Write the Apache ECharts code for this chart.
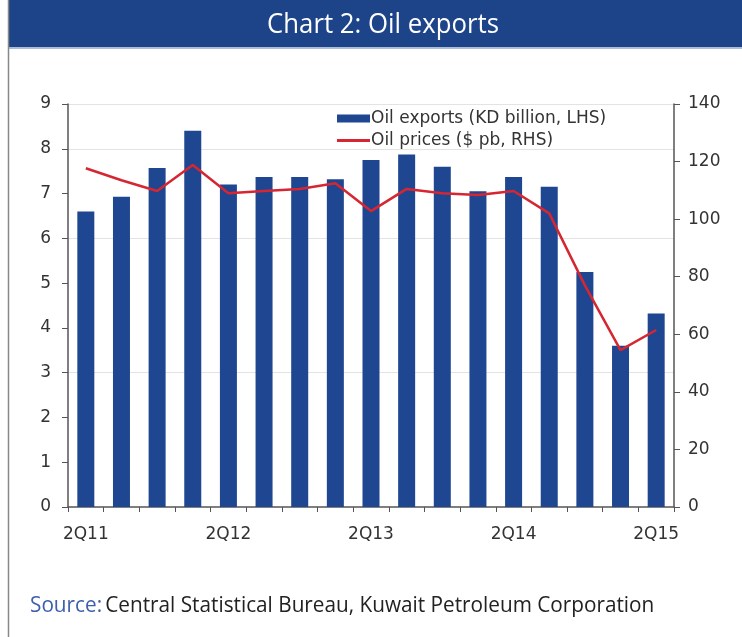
<!DOCTYPE html>
<html><head><meta charset="utf-8">
<script src="https://cdn.jsdelivr.net/npm/echarts@6/dist/echarts.min.js"></script>
<style>html,body{margin:0;padding:0;background:#fff}#c{width:742px;height:637px}</style>
</head><body><div id="c"></div>
<script>
const categories = ['2Q11','3Q11','4Q11','1Q12','2Q12','3Q12','4Q12','1Q13','2Q13','3Q13','4Q13','1Q14','2Q14','3Q14','4Q14','1Q15','2Q15'];
const oilExports = [6.6, 6.93, 7.57, 8.4, 7.2, 7.37, 7.37, 7.32, 7.75, 7.87, 7.6, 7.05, 7.37, 7.15, 5.25, 3.6, 4.32];
const oilPrices = [117.7, 113.5, 109.8, 118.8, 109, 109.8, 110.5, 112.5, 102.8, 110.5, 109, 108.4, 109.8, 102, 77, 54.5, 61.5];
const leftTicks = [0, 9, 1];
const rightTicks = [0, 140, 20];
const gridLevels = [9, 8, 6, 3];

const chart = echarts.init(document.getElementById('c'));
const axisCol = '#555';
const txtCol = '#333';
const font = 'DejaVu Sans';
const condFont = '"Open Sans", sans-serif';
chart.setOption({
  animation: false,
  textStyle: {fontFamily: font},
  graphic: [
    {type: 'rect', shape: {x: 8, y: 0, width: 734, height: 47}, style: {fill: '#1d4489'}, z: 10},
    {type: 'line', shape: {x1: 8, y1: 48, x2: 742, y2: 48}, style: {stroke: '#8fa6cf', lineWidth: 1.5}, z: 10},
    {type: 'line', shape: {x1: 8.5, y1: 0, x2: 8.5, y2: 637}, style: {stroke: '#888', lineWidth: 1.5}, z: 10},
    {type: 'text', x: 383, y: 25, scaleX: 0.92, style: {text: 'Chart 2: Oil exports', fill: '#fff', font: '28px ' + condFont, textAlign: 'center', textVerticalAlign: 'middle'}, z: 11},
    {type: 'text', x: 30, y: 606, scaleX: 0.943, style: {rich: {a: {fill: '#3d5fae', fontSize: 22, fontFamily: condFont}, b: {fill: '#222', fontSize: 22, fontFamily: condFont}}, text: '{a|Source:} {b|Central Statistical Bureau, Kuwait Petroleum Corporation}', textVerticalAlign: 'middle'}, z: 11}
  ],
  legend: [
    {left: 337, top: 110, itemWidth: 33, itemHeight: 8, padding: 0,
     textStyle: {fontSize: 17, color: txtCol, fontFamily: font, padding: [0, 0, 0, -4]},
     data: [{name: 'Oil exports (KD billion, LHS)', icon: 'rect'}]},
    {left: 337, top: 132, itemWidth: 33, itemHeight: 3, padding: 0,
     textStyle: {fontSize: 17, color: txtCol, fontFamily: font, padding: [0, 0, 0, -4]},
     data: [{name: 'Oil prices ($ pb, RHS)', icon: 'rect'}]}
  ],
  grid: {left: 68, right: 68, top: 104, bottom: 130},
  xAxis: {
    type: 'category', data: categories, boundaryGap: true,
    axisLine: {lineStyle: {color: axisCol, width: 1.5}},
    axisTick: {show: true, alignWithLabel: false, interval: 0, length: 5, lineStyle: {color: axisCol}},
    axisLabel: {interval: 3, color: txtCol, fontSize: 17, margin: 19, fontFamily: font}
  },
  yAxis: [
    {type: 'value', min: leftTicks[0], max: leftTicks[1], interval: leftTicks[2], position: 'left',
     axisLine: {show: true, lineStyle: {color: axisCol, width: 1.5}},
     axisTick: {show: true, length: 6, lineStyle: {color: axisCol}},
     axisLabel: {color: txtCol, fontSize: 17, margin: 17, fontFamily: font},
     splitLine: {show: false}},
    {type: 'value', min: rightTicks[0], max: rightTicks[1], interval: rightTicks[2], position: 'right',
     axisLine: {show: true, lineStyle: {color: axisCol, width: 1.5}},
     axisTick: {show: true, length: 6, lineStyle: {color: axisCol}},
     axisLabel: {color: txtCol, fontSize: 17, margin: 14, fontFamily: font},
     splitLine: {show: false}}
  ],
  series: [
    {name: 'Oil exports (KD billion, LHS)', type: 'bar', data: oilExports, yAxisIndex: 0,
     barWidth: 17, itemStyle: {color: '#1f4690'},
     markLine: {silent: true, symbol: 'none', label: {show: false}, lineStyle: {color: '#e3e3e3', type: 'solid', width: 1}, z: 0,
       data: gridLevels.map(v => ({yAxis: v}))}, z: 2},
    {name: 'Oil prices ($ pb, RHS)', type: 'line', data: oilPrices, yAxisIndex: 1,
     symbol: 'none', lineStyle: {color: '#d62631', width: 2.5}, itemStyle: {color: '#d62631'}, z: 3}
  ]
});
</script></body></html>
